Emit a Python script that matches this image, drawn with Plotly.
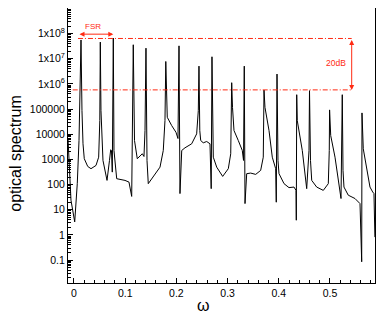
import math
import plotly.graph_objects as go

# spectrum (omega, intensity)
omega = [
    -0.0117, -0.0059, 0.0014, 0.0064, 0.0098, 0.0123, 0.0137,
    0.0156, 0.0176, 0.0201, 0.0268, 0.0332, 0.0430, 0.0482, 0.0504, 0.0514,
    0.0527, 0.0566, 0.0645, 0.0693, 0.0717, 0.0732, 0.0748, 0.0768,
    0.0781, 0.0834, 0.0996, 0.1074, 0.1127, 0.1158,
    0.1182, 0.1236, 0.1289, 0.1334, 0.1367, 0.1387, 0.1406,
    0.1426, 0.1451, 0.1549, 0.1680, 0.1744, 0.1777, 0.1793,
    0.1807, 0.1822, 0.1908, 0.1992, 0.2031, 0.2051, 0.2070,
    0.2104, 0.2168, 0.2299, 0.2396, 0.2428, 0.2441,
    0.2457, 0.2475, 0.2525, 0.2592, 0.2656, 0.2680, 0.2695,
    0.2721, 0.2787, 0.2904, 0.3014, 0.3061, 0.3072, 0.3080,
    0.3096, 0.3111, 0.3125, 0.3209, 0.3287, 0.3311, 0.3326, 0.3340,
    0.3373, 0.3451, 0.3549, 0.3646, 0.3697, 0.3711,
    0.3730, 0.3809, 0.3873, 0.3939, 0.3951, 0.3965,
    0.3984, 0.4004, 0.4102, 0.4199, 0.4297, 0.4336, 0.4342, 0.4350,
    0.4361, 0.4459, 0.4545, 0.4590, 0.4600,
    0.4619, 0.4643, 0.4740, 0.4869, 0.4967, 0.4986, 0.4992,
    0.5014, 0.5098, 0.5182, 0.5215, 0.5240,
    0.5254, 0.5273, 0.5357, 0.5488, 0.5586, 0.5619, 0.5625,
    0.5650, 0.5717, 0.5781, 0.5834, 0.5859, 0.5877,
]
spectrum = [
    6.8e3, 24, 3.3, 109, 5.65e3, 5.4e5, 5.6e7,
    8.7e4, 4.19e3, 1.07e3, 528, 429, 578, 1.23e3, 3.5e4, 4.6e7,
    8.7e4, 912, 147, 912, 2.42e3, 2.27e3, 314, 6.6e7,
    2.27e3, 172, 147, 126, 34, 3.6e7,
    5.65e3, 1.07e3, 1.44e3, 1.68e3, 1.31e3, 1.41e4, 2.64e7,
    912, 109, 199, 495, 2.27e3, 3.5e4, 7.8e6,
    8.7e4, 4.73e4, 2.22e4, 1.2e4, 6.78e3, 3.26e7, 44,
    2.27e3, 2.9e3, 4.19e3, 1.04e4, 8.7e4, 5.1e6,
    1.41e4, 5.65e3, 4.58e3, 5.16e3, 4.19e3, 69, 1.2e7,
    1.23e3, 495, 212, 429, 1.68e3, 3.5e4, 1.12e6,
    1.17e5, 4.73e4, 1.41e4, 5.65e3, 2.27e3, 912, 5.1e6, 17.6,
    272, 287, 255, 367, 1.23e3, 5.74e5,
    1.17e5, 1.41e4, 1.23e3, 429, 20, 2.47e6,
    912, 272, 109, 76, 80, 59, 3.85, 3.74e5,
    3.5e4, 2.27e3, 69, 2.27e3, 5.4e5,
    912, 147, 80, 59, 109, 2.27e3, 9.3e4,
    8.9e3, 1.23e3, 80, 28, 3.74e5,
    367, 80, 38, 28, 17.6, 0.086, 7.06e4,
    2.65e3, 367, 80, 51, 44, 0.82,
]

# reference levels and FSR marker
top_level = 6.4e7
low_level = 5.8e5
top_x = [0.0078, 0.5424]
low_x = [-0.0025, 0.5424]
fsr_x = [0.0078, 0.0768]
fsr_level = 9.5e7
db_x = 0.5424

y_ticks = [0.1, 1, 10, 100, 1000, 10000, 100000, 1e6, 1e7, 1e8]
y_labels = ["0.1", "1", "10", "100", "1000", "10000", "100000",
            "1x10<sup>6</sup>", "1x10<sup>7</sup>", "1x10<sup>8</sup>"]
minor_y = [m * 10.0 ** e for e in range(-2, 9) for m in range(2, 10)]

red = "#ff2a12"
font = "Liberation Sans, Arial, sans-serif"

fig = go.Figure()
fig.add_trace(go.Scatter(x=omega, y=spectrum, mode="lines",
                         line=dict(color="black", width=1), hoverinfo="skip"))
fig.add_trace(go.Scatter(x=top_x, y=[top_level] * 2, mode="lines",
                         line=dict(color=red, width=1, dash="5px,2px,1px,2px")))
fig.add_trace(go.Scatter(x=low_x, y=[low_level] * 2, mode="lines",
                         line=dict(color=red, width=1, dash="5px,2px,1px,2px")))

# arrows (annotation coords on a log axis are log10 values)
fig.add_annotation(x=fsr_x[1], y=math.log10(fsr_level), ax=fsr_x[0], ay=math.log10(fsr_level),
                   xref="x", yref="y", axref="x", ayref="y", text="", showarrow=True,
                   arrowside="end+start", arrowhead=2, arrowsize=1, arrowwidth=1,
                   arrowcolor=red, standoff=0, startstandoff=0)
fig.add_annotation(x=0.037, y=8.27, xref="x", yref="y", text="FSR", showarrow=False,
                   font=dict(size=8, color=red, family=font))
fig.add_annotation(x=db_x, y=math.log10(low_level), ax=db_x, ay=math.log10(top_level),
                   xref="x", yref="y", axref="x", ayref="y", text="", showarrow=True,
                   arrowside="end+start", arrowhead=2, arrowsize=1, arrowwidth=1,
                   arrowcolor=red, standoff=0, startstandoff=0)
fig.add_annotation(x=0.511, y=6.85, xref="x", yref="y", text="20dB", showarrow=False,
                   font=dict(size=8.5, color=red, family=font))

# axis titles
fig.add_annotation(x=-0.170, y=0.473, xref="paper", yref="paper", text="optical spectrum",
                   textangle=-90, showarrow=False, xanchor="center", yanchor="middle",
                   font=dict(size=16, color="black", family=font))
fig.add_annotation(x=0.252, y=-0.08, xref="x", yref="paper", text="ω",
                   showarrow=False, xanchor="center", yanchor="middle",
                   font=dict(size=16, color="black", family=font))

fig.update_xaxes(range=[-0.0117, 0.5879], tick0=0, dtick=0.1, ticks="inside", ticklen=5,
                 tickwidth=1, tickcolor="black", showgrid=False, zeroline=False,
                 showline=True, linecolor="black", linewidth=1, mirror=True,
                 tickfont=dict(size=10.5, color="black", family=font),
                 minor=dict(dtick=0.02, tick0=0, ticks="inside", ticklen=3, tickcolor="black",
                            showgrid=False))
fig.update_yaxes(type="log", range=[-1.909, 9.017], tickmode="array", tickvals=y_ticks,
                 ticktext=y_labels, ticks="inside", ticklen=5, tickwidth=1, tickcolor="black",
                 showgrid=False, zeroline=False, showline=True, linecolor="black",
                 linewidth=1, mirror=True,
                 tickfont=dict(size=10.5, color="black", family=font),
                 minor=dict(tickmode="array", tickvals=minor_y, ticks="inside", ticklen=3,
                            tickcolor="black", showgrid=False))

# the page body adds an 8px offset, so the figure is sized to the remaining window
fig.update_layout(width=382, height=315, margin=dict(l=60, r=15, t=0, b=40),
                  showlegend=False, plot_bgcolor="white", paper_bgcolor="white",
                  font=dict(family=font))

fig.write_html("out.html")
